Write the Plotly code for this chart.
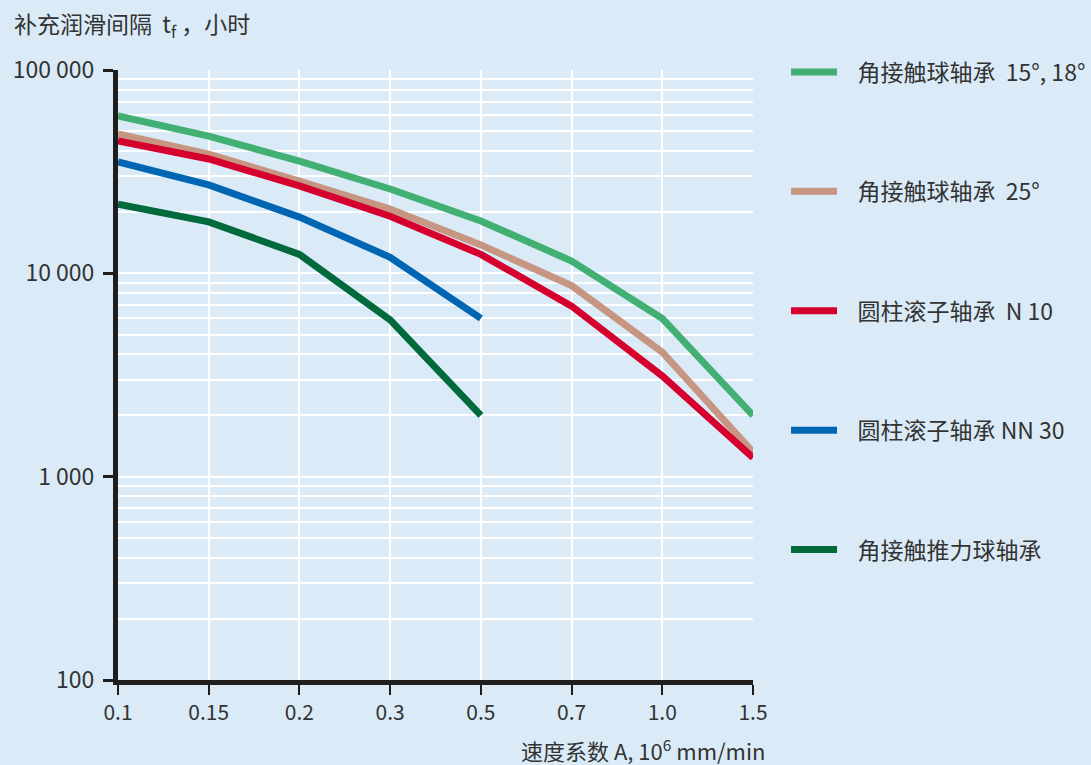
import plotly.graph_objects as go

categories = ["0.1", "0.15", "0.2", "0.3", "0.5", "0.7", "1.0", "1.5"]

ac_15_18 = [59500, 47300, 35600, 26000, 18100, 11500, 6000, 2000]
ac_25 = [48500, 38600, 28400, 20700, 13800, 8700, 4100, 1320]
crb_n10 = [44800, 36500, 26900, 19100, 12400, 6900, 3130, 1240]
crb_nn30 = [35300, 27200, 18900, 12000, 6000]
actb = [21900, 17900, 12400, 5900, 2000]

series_names = ["角接触球轴承  15°, 18°", "角接触球轴承  25°", "圆柱滚子轴承  N 10",
                "圆柱滚子轴承 NN 30", "角接触推力球轴承"]
series_values = [ac_15_18, ac_25, crb_n10, crb_nn30, actb]
series_colors = ["#43B073", "#C69683", "#D6002F", "#0066B3", "#006A3C"]

y_tickvals = [100, 1000, 10000, 100000]
y_ticktext = ["100", "1 000", "10 000", "100 000"]
y_minor = [m * 10 ** e for e in (2, 3, 4) for m in range(2, 10)]

font_family = "Noto Sans CJK SC, Noto Sans, sans-serif"
bg = "#DAEBF7"
txt = "#333333"
pad = "\u00a0" * 3

fig = go.Figure()
for i, (name, vals, col) in enumerate(zip(series_names, series_values, series_colors)):
    fig.add_trace(go.Scatter(
        x=categories[:len(vals)], y=vals, mode="lines", name=pad + name,
        line=dict(color=col, width=7), legendgroup=f"g{i}",
    ))

fig.update_layout(
    width=1091, height=765,
    paper_bgcolor=bg, plot_bgcolor=bg,
    margin=dict(l=118, r=338, t=70, b=85, autoexpand=False),
    font=dict(family=font_family, size=21, color=txt),
    showlegend=True,
    legend=dict(x=1.052, xanchor="left", y=1.032, yanchor="top",
                tracegroupgap=86.5, bgcolor="rgba(0,0,0,0)", itemwidth=46,
                maxheight=720,
                font=dict(size=23, color=txt, family=font_family)),
    xaxis=dict(type="category", categoryorder="array", categoryarray=categories,
               range=[0, 7], showline=True, linecolor="#1E1E1E", linewidth=5,
               ticks="outside", ticklen=10, tickwidth=2, tickcolor="#1E1E1E",
               showgrid=True, gridcolor="white", gridwidth=1.5, zeroline=False,
               tickfont=dict(size=21, color=txt)),
    yaxis=dict(type="log", range=[2, 5], showline=True, linecolor="#1E1E1E", linewidth=5,
               tickvals=y_tickvals, ticktext=y_ticktext,
               ticks="outside", ticklen=10, tickwidth=3, tickcolor="#1E1E1E",
               ticklabelstandoff=4,
               showgrid=True, gridcolor="white", gridwidth=1.5, zeroline=False,
               tickfont=dict(size=23, color=txt),
               minor=dict(tickvals=y_minor, showgrid=True, gridcolor="white",
                          gridwidth=1.5, ticks="")),
)

fig.add_annotation(xref="paper", yref="paper", x=-0.167, y=1.0738, xanchor="left",
                   yanchor="middle", showarrow=False,
                   text="补充润滑间隔  t<sub>f</sub> ，小时",
                   font=dict(size=23, color=txt, family=font_family))
fig.add_annotation(xref="paper", yref="paper", x=1.022, y=-0.114, xanchor="right",
                   yanchor="middle", showarrow=False,
                   text="速度系数 A, 10<sup>6</sup> mm/min",
                   font=dict(size=22, color=txt, family=font_family))

fig.write_html("out.html", config={"displayModeBar": False},
               post_script="document.body.style.margin='0';document.body.style.padding='0';")
